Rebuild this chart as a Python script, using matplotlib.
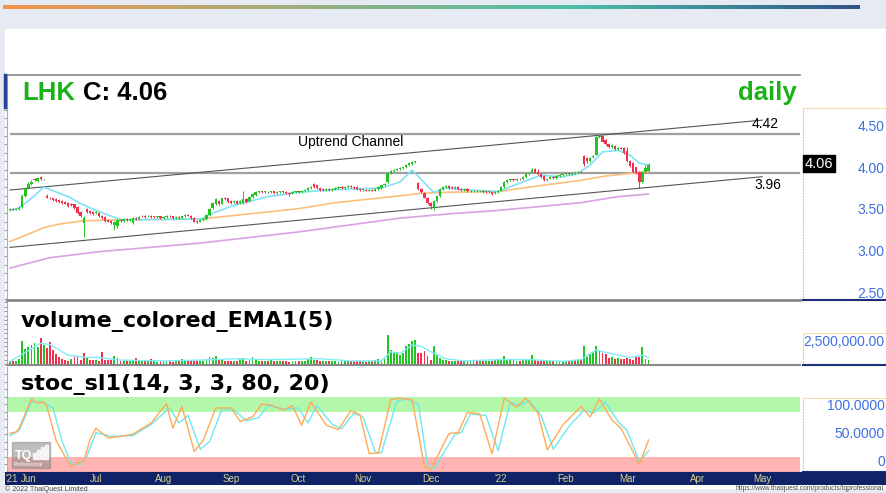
import numpy as np
import pandas as pd
import matplotlib
matplotlib.use("Agg")
import matplotlib.pyplot as plt
from matplotlib.colors import LinearSegmentedColormap
from matplotlib.patches import Rectangle

plt.rcParams['font.family'] = ['Liberation Sans', 'DejaVu Sans']

# LHK daily candles, trading days 24 May 2021 .. 10 Mar 2022
opens = [3.54,3.55,3.54,3.55,3.57,3.70,3.79,3.84,3.90,3.87,
         3.92,3.89,3.70,3.68,3.67,3.66,3.65,3.64,3.63,3.62,
         3.61,3.60,3.57,3.51,3.38,3.55,3.52,3.51,3.50,3.50,
         3.47,3.45,3.42,3.41,3.36,3.35,3.42,3.41,3.43,3.42,
         3.38,3.44,3.43,3.47,3.47,3.46,3.47,3.46,3.45,3.46,
         3.44,3.45,3.47,3.46,3.44,3.45,3.44,3.46,3.48,3.47,
         3.44,3.41,3.40,3.42,3.43,3.48,3.56,3.60,3.64,3.61,
         3.68,3.67,3.64,3.63,3.64,3.62,3.62,3.66,3.64,3.69,
         3.71,3.74,3.75,3.74,3.74,3.74,3.75,3.73,3.74,3.75,
         3.74,3.73,3.73,3.74,3.75,3.74,3.76,3.77,3.79,3.84,
         3.82,3.79,3.78,3.77,3.78,3.77,3.78,3.79,3.80,3.79,
         3.80,3.81,3.80,3.80,3.78,3.77,3.77,3.76,3.77,3.76,
         3.78,3.79,3.82,3.86,3.96,3.99,4.00,4.01,4.02,4.03,
         4.06,4.07,4.09,3.85,3.78,3.73,3.68,3.62,3.57,3.64,
         3.70,3.78,3.80,3.81,3.80,3.79,3.80,3.78,3.77,3.78,
         3.76,3.75,3.76,3.75,3.76,3.75,3.74,3.74,3.73,3.74,
         3.76,3.80,3.86,3.88,3.89,3.88,3.90,3.89,3.92,3.95,
         3.97,4.01,3.98,3.95,3.93,3.88,3.90,3.92,3.91,3.93,
         3.94,3.95,3.96,3.95,3.97,3.96,3.98,4.16,4.14,4.10,
         4.15,4.18,4.38,4.40,4.35,4.30,4.27,4.28,4.24,4.26,
         4.26,4.22,4.11,4.08,4.03,3.98,3.86,3.98,3.99]
highs = [3.56,3.56,3.56,3.58,3.72,3.80,3.86,3.88,3.91,3.92,
         3.93,3.90,3.72,3.69,3.68,3.67,3.66,3.65,3.64,3.63,
         3.62,3.61,3.58,3.52,3.46,3.56,3.53,3.52,3.52,3.51,
         3.48,3.46,3.43,3.42,3.41,3.43,3.43,3.44,3.44,3.44,
         3.45,3.45,3.46,3.48,3.48,3.48,3.48,3.47,3.47,3.47,
         3.46,3.48,3.48,3.47,3.46,3.46,3.47,3.49,3.49,3.48,
         3.45,3.42,3.43,3.44,3.49,3.56,3.63,3.67,3.65,3.68,
         3.69,3.68,3.65,3.65,3.65,3.65,3.75,3.67,3.70,3.73,
         3.75,3.76,3.76,3.76,3.75,3.76,3.76,3.75,3.76,3.76,
         3.75,3.74,3.75,3.76,3.76,3.77,3.78,3.80,3.81,3.85,
         3.83,3.80,3.79,3.79,3.79,3.79,3.80,3.81,3.81,3.81,
         3.82,3.82,3.81,3.81,3.79,3.79,3.78,3.78,3.78,3.79,
         3.81,3.83,3.85,3.97,4.00,4.01,4.02,4.03,4.04,4.07,
         4.09,4.10,4.11,3.86,3.79,3.74,3.69,3.63,3.65,3.71,
         3.79,3.81,3.82,3.82,3.81,3.81,3.81,3.79,3.79,3.79,
         3.77,3.77,3.77,3.77,3.77,3.76,3.76,3.75,3.75,3.77,
         3.81,3.87,3.89,3.90,3.90,3.91,3.91,3.93,3.96,3.98,
         4.02,4.02,4.01,3.96,3.94,3.91,3.93,3.93,3.94,3.95,
         3.96,3.97,3.97,3.98,3.98,3.99,3.99,4.17,4.15,4.15,
         4.17,4.40,4.42,4.41,4.36,4.31,4.30,4.29,4.27,4.27,
         4.27,4.27,4.12,4.09,4.04,3.99,3.99,4.06,4.08]
lows = [3.53,3.53,3.53,3.54,3.56,3.69,3.78,3.83,3.87,3.86,
        3.88,3.88,3.67,3.66,3.64,3.63,3.62,3.61,3.60,3.57,
        3.58,3.55,3.49,3.45,3.22,3.50,3.49,3.48,3.49,3.45,
        3.43,3.40,3.39,3.37,3.30,3.32,3.40,3.40,3.41,3.41,
        3.37,3.42,3.42,3.45,3.44,3.45,3.44,3.44,3.44,3.43,
        3.43,3.44,3.45,3.43,3.43,3.43,3.43,3.45,3.46,3.43,
        3.39,3.38,3.39,3.41,3.42,3.47,3.55,3.59,3.59,3.60,
        3.65,3.62,3.61,3.62,3.60,3.61,3.61,3.62,3.63,3.68,
        3.70,3.73,3.73,3.73,3.73,3.73,3.72,3.72,3.73,3.73,
        3.72,3.70,3.72,3.73,3.73,3.73,3.75,3.76,3.78,3.79,
        3.78,3.76,3.76,3.76,3.76,3.76,3.77,3.78,3.78,3.78,
        3.79,3.79,3.78,3.77,3.76,3.76,3.75,3.75,3.75,3.75,
        3.77,3.78,3.81,3.85,3.95,3.98,3.99,4.00,4.01,4.02,
        4.05,4.06,4.08,3.77,3.73,3.67,3.61,3.55,3.53,3.63,
        3.69,3.77,3.79,3.78,3.78,3.78,3.77,3.76,3.76,3.74,
        3.74,3.74,3.74,3.74,3.73,3.73,3.73,3.71,3.72,3.73,
        3.75,3.79,3.85,3.87,3.87,3.87,3.88,3.88,3.91,3.94,
        3.96,3.96,3.94,3.91,3.87,3.87,3.89,3.90,3.90,3.92,
        3.93,3.94,3.94,3.94,3.95,3.95,3.96,4.05,4.08,4.09,
        4.14,4.17,4.37,4.32,4.29,4.26,4.26,4.23,4.23,4.24,
        4.19,4.09,4.04,3.97,3.95,3.79,3.85,3.97,3.98]
closes = [3.55,3.54,3.55,3.56,3.70,3.78,3.84,3.86,3.88,3.91,
          3.89,3.89,3.68,3.67,3.65,3.64,3.63,3.62,3.61,3.58,
          3.59,3.56,3.50,3.47,3.44,3.51,3.50,3.49,3.51,3.46,
          3.44,3.41,3.40,3.38,3.40,3.42,3.41,3.43,3.42,3.43,
          3.44,3.43,3.45,3.46,3.45,3.47,3.45,3.45,3.46,3.44,
          3.45,3.47,3.46,3.44,3.45,3.44,3.46,3.48,3.47,3.44,
          3.40,3.39,3.42,3.43,3.48,3.55,3.62,3.66,3.60,3.67,
          3.66,3.63,3.62,3.64,3.61,3.64,3.66,3.63,3.69,3.72,
          3.74,3.75,3.74,3.75,3.74,3.75,3.73,3.74,3.75,3.74,
          3.73,3.72,3.74,3.75,3.74,3.76,3.77,3.79,3.80,3.80,
          3.79,3.77,3.77,3.78,3.77,3.78,3.79,3.80,3.79,3.80,
          3.81,3.80,3.79,3.78,3.77,3.78,3.76,3.77,3.76,3.78,
          3.80,3.82,3.84,3.96,3.99,4.00,4.01,4.02,4.03,4.06,
          4.08,4.09,4.10,3.78,3.74,3.68,3.62,3.58,3.64,3.70,
          3.78,3.80,3.81,3.79,3.79,3.80,3.78,3.77,3.78,3.75,
          3.75,3.76,3.75,3.76,3.74,3.74,3.75,3.72,3.74,3.76,
          3.80,3.86,3.88,3.89,3.88,3.90,3.89,3.92,3.95,3.97,
          4.00,3.97,3.95,3.92,3.88,3.90,3.92,3.91,3.93,3.94,
          3.95,3.96,3.95,3.97,3.96,3.98,3.97,4.07,4.10,4.14,
          4.16,4.38,4.40,4.33,4.30,4.27,4.29,4.24,4.26,4.25,
          4.20,4.10,4.05,3.98,3.96,3.86,3.98,4.02,4.06]
# volume, millions of shares
volume_m = [0.30,0.35,0.30,0.60,2.60,1.70,1.90,2.20,2.40,1.90,
            3.00,2.20,1.80,2.50,1.60,1.10,0.85,0.55,0.45,0.40,
            0.55,0.90,0.85,0.45,1.30,0.65,0.45,0.50,0.50,0.40,
            1.40,0.45,0.45,0.50,0.90,0.65,0.35,0.40,0.30,0.35,
            0.30,0.70,0.30,0.35,0.30,0.30,0.55,0.30,0.25,0.30,
            0.30,0.30,0.35,0.25,0.30,0.30,0.55,0.35,0.30,0.30,
            0.35,0.30,0.40,0.30,0.55,0.80,0.70,0.90,0.45,0.60,
            0.40,0.35,0.40,0.30,0.35,0.55,0.70,0.40,0.45,0.80,
            0.60,0.35,0.30,0.40,0.30,0.55,0.35,0.30,0.30,0.35,
            0.30,0.25,0.30,0.30,0.30,0.30,0.40,0.60,0.75,0.50,
            0.45,0.35,0.30,0.30,0.30,0.35,0.30,0.25,0.30,0.30,
            0.35,0.30,0.30,0.35,0.30,0.30,0.25,0.30,0.30,0.45,
            0.60,0.45,0.60,3.30,1.60,1.20,1.40,1.00,1.20,2.10,
            2.30,2.60,2.70,1.20,1.20,1.50,0.90,0.50,2.00,1.00,
            0.70,0.45,0.50,0.40,0.35,0.35,0.35,0.30,0.30,0.30,
            0.30,0.45,0.30,0.30,0.30,0.30,0.35,0.30,0.50,0.45,
            0.55,0.95,0.55,0.50,0.50,0.35,0.35,0.55,0.45,0.55,
            1.00,0.45,0.35,0.30,0.30,0.35,0.30,0.30,0.30,0.30,
            0.30,0.25,0.30,0.45,0.50,0.55,0.45,2.00,0.80,1.10,
            1.40,2.00,1.50,1.30,1.10,0.70,0.75,0.60,0.70,0.60,
            0.55,0.65,0.55,0.50,0.75,0.80,1.90,0.55,0.50]

# moving averages (trading-day index, value)
ema_fast_day = [0,3,7,11,19,23,28,34,37,62,67,73,84,94,105,121,127,131,138,142,148,159,167,173,180,185,189,193,198,202,205,208]
ema_fast_val = [3.53,3.56,3.67,3.80,3.69,3.61,3.53,3.45,3.42,3.43,3.51,3.59,3.69,3.74,3.77,3.79,3.86,4.00,3.74,3.79,3.77,3.75,3.86,3.94,3.92,3.96,4.06,4.21,4.23,4.17,4.08,4.06]
ema_mid_day = [0,3,7,11,16,24,35,62,78,94,106,127,134,142,159,173,186,194,202,208]
ema_mid_val = [3.17,3.21,3.27,3.33,3.37,3.41,3.42,3.43,3.49,3.55,3.62,3.70,3.73,3.74,3.75,3.82,3.88,3.93,3.96,3.98]
ema_slow_day = [0,13,29,62,94,127,143,159,186,198,208]
ema_slow_val = [2.86,2.98,3.05,3.15,3.28,3.44,3.49,3.53,3.62,3.69,3.72]
vol_ema_day = [0,10,13,19,25,29,35,51,67,73,84,101,111,121,124,127,131,134,137,142,148,159,169,180,186,191,193,202,206,208]
vol_ema_val = [0.30,2.35,2.20,1.00,0.75,0.75,0.45,0.35,0.50,0.60,0.50,0.60,0.35,0.35,1.40,1.20,2.15,2.00,1.40,0.60,0.35,0.50,0.50,0.30,0.50,1.60,1.40,0.75,1.00,0.75]

# stochastic (14,3,3): %K and %D
stoch_k_day = [0,2,3,7,9,11,12,15,19,20,22,24,26,28,32,36,40,46,51,53,56,60,63,67,72,75,79,82,85,89,92,95,98,103,107,111,114,117,120,124,127,131,135,137,143,146,149,153,157,161,165,168,172,175,180,186,189,192,196,199,205,208]
stoch_k_val = [51,53,58,97,91,93,87,42,12,7,12,13,42,58,45,47,50,65,91,58,87,27,42,85,85,67,73,90,89,82,88,62,93,62,56,81,76,24,25,96,98,96,7,2,51,52,79,77,24,98,86,98,78,29,62,87,73,97,69,58,10,42]
stoch_d_day = [0,3,7,11,14,17,20,23,25,28,33,40,46,52,55,58,62,65,69,73,77,81,84,90,94,97,100,105,108,112,115,119,121,126,129,133,136,138,145,147,150,155,159,163,166,169,173,177,182,187,190,194,198,201,205,208]
stoch_d_val = [48,55,93,92,85,40,10,10,20,52,47,48,63,85,65,75,30,40,83,82,68,72,88,83,85,65,88,63,57,78,73,26,25,94,97,90,10,3,50,52,77,75,28,93,88,95,75,30,60,82,78,93,67,55,13,28]

# chart annotations
last_close = 4.06
levels = [4.42, 3.96]
upper_channel = ([0, 245], [3.767, 4.58])
lower_channel = ([0, 245], [3.10, 3.922])
price_ticks = [4.5, 4.0, 3.5, 3.0, 2.5]
stoch_ticks = [(100, '100.0000'), (50, '50.0000'), (0, '0')]

days = pd.bdate_range('2021-05-24', '2022-05-31')
n = len(closes)
x = np.arange(n)

W, H = 886, 493
fig = plt.figure(figsize=(W / 100, H / 100), dpi=100, facecolor='#e6eaf3')


def add_ax(x0, y0, x1, y1):
    # pixel box -> figure axes
    return fig.add_axes([x0 / W, 1 - y1 / H, (x1 - x0) / W, (y1 - y0) / H])


fig.patches.append(Rectangle((5 / W, 1 - 488 / H), 881 / W, 459 / H,
                             transform=fig.transFigure, color='white', zorder=-5))

# gradient strip on top
gax = add_ax(3, 5, 860, 9)
cmap = LinearSegmentedColormap.from_list('strip', ['#f7944a', '#9fae7c', '#4dbfa8', '#2f5487'])
gax.imshow(np.linspace(0, 1, 256)[None, :], aspect='auto', cmap=cmap)
gax.axis('off')

green, red = '#22c322', '#f0304f'
xmin, xmax = (7 - 10) / 3.07, (800 - 10) / 3.07

# ---------- price panel ----------
ax = add_ax(7, 75, 800, 300)
ax.set_xlim(xmin, xmax)
ax.set_ylim(2.488, 5.105)
for lv in levels:
    ax.hlines(lv, 0, xmax, color='#a0a0a0', lw=1.6, zorder=1)
ax.plot(*upper_channel, color='#555555', lw=0.8, zorder=2)
ax.plot(*lower_channel, color='#555555', lw=0.8, zorder=2)
ax.plot(ema_slow_day, ema_slow_val, color='#d9a2e2', lw=1.2, zorder=2)
ax.plot(ema_mid_day, ema_mid_val, color='#fdbf7c', lw=1.2, zorder=2)
ax.plot(ema_fast_day, ema_fast_val, color='#7fe3f5', lw=1.2, zorder=3)

o, h, l, c = map(np.array, (opens, highs, lows, closes))
cols = np.where(c > o, green, np.where(c < o, red, '#555555'))
ax.vlines(x, l, h, colors=cols, lw=0.7, zorder=4)
ax.bar(x, np.maximum(np.abs(c - o), 0.006), bottom=np.minimum(o, c), width=0.75,
       color=cols, zorder=5)

ax.text(246, 4.45, '4.42', ha='center', va='bottom', fontsize=10)
ax.text(247, 3.91, '3.96', ha='center', va='top', fontsize=10)
ax.text(111, 4.32, 'Uptrend Channel', ha='center', va='center', fontsize=10)

ax.set_yticks(np.arange(2.5, 5.11, 0.1))
ax.tick_params(axis='y', length=2, color='#999999', labelleft=False)
ax.set_xticks([])
ax.spines['right'].set_visible(False)
ax.spines['left'].set_color('#aaaaaa')
ax.spines['top'].set_color('#888888')
ax.spines['top'].set_linewidth(1.2)
ax.spines['bottom'].set_color('#888888')
ax.spines['bottom'].set_linewidth(2)

fig.text(22 / W, 1 - 100 / H, 'LHK', color='#19b219', fontsize=18.5, fontweight='bold', va='baseline')
fig.text(83 / W, 1 - 100 / H, 'C: 4.06', color='black', fontsize=18.5, fontweight='bold', va='baseline')
fig.text(797 / W, 1 - 100 / H, 'daily', color='#19b219', fontsize=18.5, fontweight='bold',
         va='baseline', ha='right')
fig.lines.append(plt.Line2D([5 / W, 5 / W], [1 - 75 / H, 1 - 107 / H], transform=fig.transFigure,
                            color='#2a3f9a', lw=2.5))

label_blue = '#3f6fe0'


def label_panel(x0, y0, x1, y1, lim):
    a = add_ax(x0, y0, x1, y1)
    a.set_ylim(*lim)
    a.set_xlim(0, 1)
    a.set_xticks([])
    a.set_yticks([])
    a.spines['right'].set_visible(False)
    a.spines['left'].set_color('#e6cf82')
    a.spines['left'].set_linestyle(':')
    a.spines['top'].set_color('#f0dfa8')
    a.spines['bottom'].set_color('#1a2d7a')
    a.spines['bottom'].set_linewidth(1.5)
    return a


pl = label_panel(803, 108, 886, 300, (2.428, 4.727))
for t in price_ticks:
    pl.text(0.985, t, f'{t:.2f}', color=label_blue, fontsize=10, va='center', ha='right')
pl.text(0.02, last_close, f'{last_close:.2f}', color='white', fontsize=10.5, va='center',
        bbox=dict(boxstyle='square,pad=0.12', fc='black', ec='black'))

# ---------- volume panel ----------
av = add_ax(7, 302, 800, 365)
av.set_xlim(xmin, xmax)
av.set_ylim(-0.11, 7.04)
vcols = [green] + [green if c[i] >= c[i - 1] else red for i in range(1, n)]
av.bar(x, volume_m, width=0.6, color=vcols, zorder=2)
av.plot(vol_ema_day, vol_ema_val, color='#80eef5', lw=1.0, zorder=3)
av.set_xticks([])
av.set_yticks(np.arange(0, 7.01, 0.5))
av.tick_params(axis='y', length=2, color='#999999', labelleft=False)
av.spines['right'].set_visible(False)
av.spines['top'].set_visible(False)
av.spines['left'].set_color('#aaaaaa')
av.spines['bottom'].set_color('#888888')
av.spines['bottom'].set_linewidth(1.5)
fig.text(21 / W, 1 - 327 / H, 'volume_colored_EMA1(5)', fontsize=16, fontweight='bold',
         va='baseline', family='DejaVu Sans')

vl = label_panel(803, 333, 886, 365, (-0.11, 3.52))
vl.text(0.985, 2.5, f'{2.5e6:,.2f}', color=label_blue, fontsize=10, va='center', ha='right')

# ---------- stochastic panel ----------
ast = add_ax(7, 367, 800, 472)
ast.set_xlim(xmin, xmax)
ast.set_ylim(-0.5, 139.6)
ast.axhspan(80, 100, color='#b2f7aa', lw=0, zorder=1)
ast.axhspan(0, 20, color='#ffb3b3', lw=0, zorder=1)
ast.plot(stoch_d_day, stoch_d_val, color='#6fe8f0', lw=1.0, zorder=3)
ast.plot(stoch_k_day, stoch_k_val, color='#ffab55', lw=1.0, zorder=3)
ast.set_xticks([])
ast.set_yticks(np.arange(0, 140, 10))
ast.tick_params(axis='y', length=2, color='#999999', labelleft=False)
ast.spines['right'].set_visible(False)
ast.spines['top'].set_visible(False)
ast.spines['left'].set_color('#aaaaaa')
fig.text(21 / W, 1 - 390 / H, 'stoc_sl1(14, 3, 3, 80, 20)', fontsize=16, fontweight='bold',
         va='baseline', family='DejaVu Sans')

sl = label_panel(803, 398, 886, 472, (-17.9, 114.3))
for val, lab in stoch_ticks:
    sl.text(0.985, val, lab, color=label_blue, fontsize=10, va='center', ha='right')

# TQ watermark
fig.patches.append(Rectangle((12 / W, 1 - 468 / H), 38 / W, 26 / H, transform=fig.transFigure,
                             color='#8a8a8a', alpha=0.55, zorder=6))
fig.text(15 / W, 1 - 459 / H, 'TQ', color='white', fontsize=9, fontweight='bold', zorder=7)
for k, hh in enumerate([6, 9, 12, 14]):
    fig.patches.append(Rectangle(((33 + 4 * k) / W, 1 - 459 / H), 3 / W, hh / H,
                                 transform=fig.transFigure, color='white', alpha=0.8, zorder=7))
fig.text(14 / W, 1 - 466 / H, 'Professional', color='white', fontsize=3.8, zorder=7)

# ---------- date bar ----------
ad = add_ax(5, 472, 886, 485)
ad.set_facecolor('#0f2366')
ad.set_xlim((5 - 10) / 3.07, (886 - 10) / 3.07)
ad.set_ylim(0, 1)
ad.set_xticks([])
ad.set_yticks([])
for s in ad.spines.values():
    s.set_visible(False)
month_first = pd.Series(np.arange(len(days)), index=days).groupby([days.year, days.month]).first()
for (yr, mo), idx in month_first.items():
    if mo == 1 or idx == 0:
        lab = f"'{yr % 100}"
    else:
        lab = days[idx].strftime('%b')
    ad.text(max(idx, 0.6), 0.45, lab, color='#d8d08c', fontsize=7, ha='center', va='center')

fig.text(5 / W, 1 - 489 / H, '\u00a9 2022 ThaiQuest Limited', fontsize=5, color='#444444', va='center')
fig.text(884 / W, 1 - 489 / H, 'https://www.thaiquest.com/products/tqprofessional', fontsize=4.8,
         color='#444444', va='center', ha='right')

fig.savefig('out.png', dpi=100, facecolor=fig.get_facecolor())
